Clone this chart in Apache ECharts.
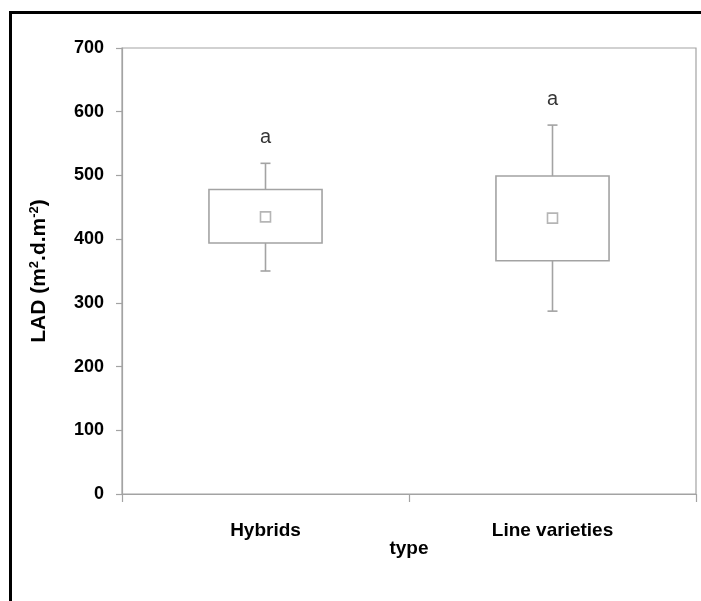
<!DOCTYPE html>
<html>
<head>
<meta charset="utf-8">
<script src="https://cdn.jsdelivr.net/npm/echarts@6/dist/echarts.min.js"></script>
<style>
  html, body { margin: 0; padding: 0; background: #fff; }
  #chart { width: 701px; height: 601px; }
</style>
</head>
<body>
<div id="chart"></div>
<script>
// values
var categories = ['Hybrids', 'Line varieties'];
var whiskerLow = [350, 287];
var boxLow = [394, 366];
var boxHigh = [478, 499];
var whiskerHigh = [519, 579];
var means = [435, 433];
var letters = ['a', 'a'];
var yTicks = [0, 100, 200, 300, 400, 500, 600, 700];

var grey = '#a3a3a3';
var fontFam = '"Liberation Sans", Arial, sans-serif';

var boxData = categories.map(function (c, i) {
    return [i, whiskerLow[i], boxLow[i], boxHigh[i], whiskerHigh[i]];
});
var meanData = categories.map(function (c, i) {
    return [i, means[i]];
});
var letterData = categories.map(function (c, i) {
    return { value: [i, whiskerHigh[i]], label: { formatter: letters[i] } };
});

function renderBox(params, api) {
    var x = api.value(0);
    var lo = api.coord([x, api.value(1)]);
    var q1 = api.coord([x, api.value(2)]);
    var q3 = api.coord([x, api.value(3)]);
    var hi = api.coord([x, api.value(4)]);
    var band = api.size([1, 0])[0];
    var half = band * 0.197;
    var cap = 5;
    var st = { stroke: grey, lineWidth: 1.6, fill: null };
    return {
        type: 'group',
        children: [
            { type: 'rect', shape: { x: q3[0] - half, y: q3[1], width: half * 2, height: q1[1] - q3[1] }, style: { stroke: grey, lineWidth: 1.6, fill: '#fff' } },
            { type: 'line', shape: { x1: hi[0], y1: hi[1], x2: q3[0], y2: q3[1] }, style: st },
            { type: 'line', shape: { x1: q1[0], y1: q1[1], x2: lo[0], y2: lo[1] }, style: st },
            { type: 'line', shape: { x1: hi[0] - cap, y1: hi[1], x2: hi[0] + cap, y2: hi[1] }, style: st },
            { type: 'line', shape: { x1: lo[0] - cap, y1: lo[1], x2: lo[0] + cap, y2: lo[1] }, style: st }
        ]
    };
}

var chart = echarts.init(document.getElementById('chart'));
var option = {
    backgroundColor: '#fff',
    animation: false,
    grid: {
        left: 122, right: 5, top: 48, bottom: 107,
        show: true, borderColor: grey, borderWidth: 1.2, backgroundColor: 'transparent'
    },
    graphic: [{
        type: 'rect',
        shape: { x: 10.5, y: 12.5, width: 800, height: 700 },
        style: { stroke: '#000', lineWidth: 3, fill: null },
        silent: true
    }],
    xAxis: {
        type: 'category',
        data: categories,
        boundaryGap: true,
        name: 'type',
        nameLocation: 'middle',
        nameGap: 45,
        nameMoveOverlap: false,
        nameTextStyle: { color: '#000', fontWeight: 'bold', fontSize: 19, fontFamily: fontFam },
        axisLine: { lineStyle: { color: grey, width: 1.2 } },
        axisTick: { show: true, length: 8, lineStyle: { color: grey, width: 1.2 } },
        axisLabel: { color: '#000', fontWeight: 'bold', fontSize: 19, fontFamily: fontFam, margin: 27 },
        splitLine: { show: false }
    },
    yAxis: {
        type: 'value',
        min: yTicks[0],
        max: yTicks[yTicks.length - 1],
        interval: 100,
        name: '{b|LAD (m}{s|2}{b|.d.m}{s|-2}{b|)}',
        nameLocation: 'middle',
        nameGap: 71,
        nameRotate: 90,
        nameTextStyle: {
            rich: {
                b: { color: '#000', fontWeight: 'bold', fontSize: 21, fontFamily: fontFam },
                s: { color: '#000', fontWeight: 'bold', fontSize: 13, fontFamily: fontFam, verticalAlign: 'top', padding: [0, 0, 10, 0] }
            }
        },
        axisLine: { show: true, lineStyle: { color: grey, width: 1.2 } },
        axisTick: { show: true, length: 6, lineStyle: { color: grey, width: 1.2 } },
        axisLabel: { color: '#000', fontWeight: 'bold', fontSize: 18, fontFamily: fontFam, margin: 18 },
        splitLine: { show: false }
    },
    series: [{
        type: 'custom',
        name: 'box',
        renderItem: renderBox,
        encode: { x: 0, y: [1, 2, 3, 4] },
        data: boxData,
        z: 2
    }, {
        type: 'scatter',
        name: 'mean',
        symbol: 'rect',
        symbolSize: 10,
        itemStyle: { color: '#fff', borderColor: grey, borderWidth: 1.6 },
        data: meanData,
        z: 3
    }, {
        type: 'scatter',
        name: 'letters',
        symbolSize: 1,
        itemStyle: { color: 'rgba(0,0,0,0)' },
        label: {
            show: true,
            position: 'top',
            distance: 15,
            color: '#000',
            fontSize: 20,
            fontFamily: fontFam
        },
        data: letterData,
        z: 4
    }]
};
chart.setOption(option);
</script>
</body>
</html>
